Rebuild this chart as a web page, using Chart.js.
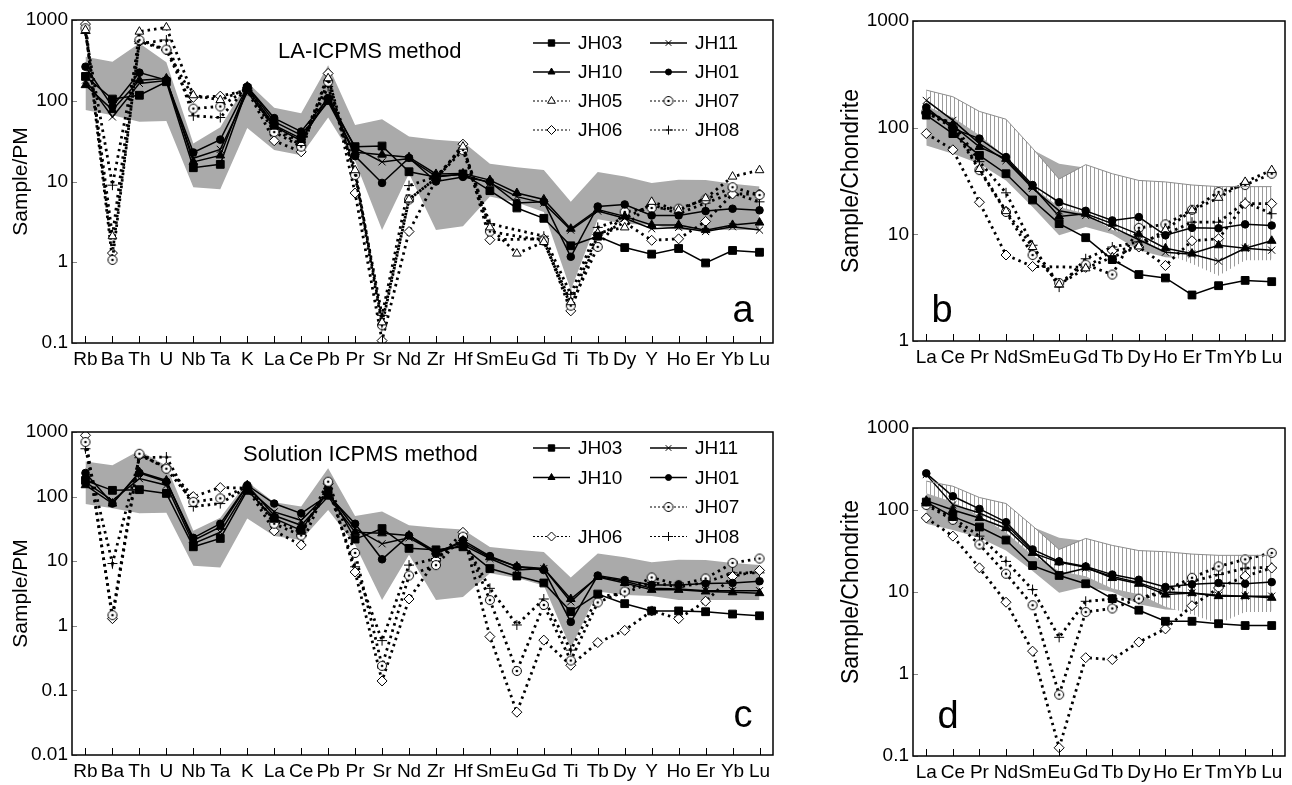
<!DOCTYPE html>
<html>
<head>
<meta charset="utf-8">
<script src="https://cdn.jsdelivr.net/npm/chart.js"></script>
<style>
	body { margin: 0; background: #fff; width: 1292px; height: 785px; overflow: hidden; position: relative; }
	.panel { position: absolute; }
</style>
</head>
<body>
<div class="panel" style="left:0;top:0"><canvas id="chart-a" width="800" height="385"></canvas></div>
<div class="panel" style="left:830px;top:0"><canvas id="chart-b" width="462" height="385"></canvas></div>
<div class="panel" style="left:0;top:400px"><canvas id="chart-c" width="800" height="385"></canvas></div>
<div class="panel" style="left:830px;top:400px"><canvas id="chart-d" width="462" height="385"></canvas></div>
<script>
// categories
const traceElements = ['Rb', 'Ba', 'Th', 'U', 'Nb', 'Ta', 'K', 'La', 'Ce', 'Pb', 'Pr', 'Sr', 'Nd', 'Zr', 'Hf', 'Sm', 'Eu', 'Gd', 'Ti', 'Tb', 'Dy', 'Y', 'Ho', 'Er', 'Yb', 'Lu']
const reeElements = ['La', 'Ce', 'Pr', 'Nd', 'Sm', 'Eu', 'Gd', 'Tb', 'Dy', 'Ho', 'Er', 'Tm', 'Yb', 'Lu']

// tick labels
const ticksA = [0.1, 1, 10, 100, 1000]
const ticksB = [1, 10, 100, 1000]
const ticksC = [0.01, 0.1, 1, 10, 100, 1000]
const ticksD = [0.1, 1, 10, 100, 1000]

// reference fields (shaded)
const pmBandUpper = [350, 305, 515, 300, 29.5, 47, 170, 82, 70, 275, 50, 59, 36, 33, 31, 16.6, 15, 13.9, 5.6, 13.1, 11.5, 9.6, 10.5, 10.4, 9.4, 8.7]
const pmBandLower = [77, 66, 55, 56, 8.5, 8.0, 46, 24.5, 21.2, 62, 18, 2.5, 12.6, 2.5, 2.8, 6.5, 5.5, 4.2, 0.45, 3.4, 3.0, 2.9, 2.5, 2.5, 2.5, 2.5]
const reeGrayUpper = [220, 190, 140, 118, 62, 46, 42, 35, 31, 30, 28, 27, 27, 27]
const reeGrayLower = [68, 57, 46, 32, 18, 9.8, 11.7, 10, 7.1, 6.1, 5.9, 6.0, 6.1, 5.9]
const reeHatchUpper = [225, 195, 142, 120, 64, 33, 45, 37, 32, 31, 29, 28, 28, 28]
const reeHatchLower = [160, 125, 85, 53, 28, 18, 15.6, 11, 9.4, 6.6, 5.3, 4.1, 5.7, 5.7]

// a: LA-ICPMS, primitive mantle normalised
const laPmJH03 = [200, 105, 117, 172, 14.8, 16.3, 142, 50, 34, 102, 27, 27.5, 13.2, 11.4, 12.4, 7.7, 4.7, 3.5, 1.6, 2.1, 1.52, 1.26, 1.48, 0.98, 1.4, 1.33]
const laPmJH11 = [180, 63, 164, 178, 19.4, 25, 128, 48, 32, 113, 26, 17.5, 19.2, 11.6, 12.2, 9.6, 6.5, 5.4, 2.5, 4.3, 3.5, 2.6, 2.7, 2.4, 2.75, 2.5]
const laPmJH10 = [156, 77, 180, 189, 17.5, 21, 150, 55, 37.6, 97, 23, 21.5, 20, 12.4, 12.6, 10.4, 7.2, 6.0, 2.6, 4.5, 3.7, 2.9, 2.9, 2.5, 2.9, 3.1]
const laPmJH01 = [264, 85, 223, 180, 22.9, 33, 150, 61, 41.5, 108, 20.6, 9.6, 19.6, 10, 11.4, 9.9, 5.4, 5.6, 1.17, 4.9, 5.2, 3.8, 3.8, 4.3, 4.6, 4.4]
const laPmJH05 = [750, 2.1, 717, 810, 117, 102, 140, 48, 30, 190, 13.8, 0.18, 6.0, 11, 27, 2.7, 1.28, 1.78, 0.32, 2.3, 2.7, 5.6, 4.4, 6.2, 11.5, 13.8]
const laPmJH07 = [790, 1.07, 565, 430, 80, 85, 140, 41, 27, 172, 12, 0.166, 6.0, 11, 24.5, 2.4, null, 1.85, 0.29, 1.55, 4.2, 4.7, 4.6, 6.0, 8.5, 6.8]
const laPmJH06 = [890, 1.3, 540, 425, 110, 114, 135, 32, 23.3, 218, 7.2, 0.107, 2.4, 10.5, 29, 1.9, null, 1.95, 0.25, 2.2, 3.1, 1.87, 1.95, 3.2, 7.0, 7.0]
const laPmJH08 = [680, 9, 510, 565, 65, 62, 145, 45, 28, 150, 12.5, 0.22, 8.9, 11.5, 26, 3.0, null, 2.1, 0.40, 2.7, 3.5, 5.2, 4.0, 5.4, 7.2, 5.6]

// b: LA-ICPMS, chondrite normalised
const laReeJH03 = [131, 88, 55, 37, 21, 12.6, 9.3, 5.8, 4.2, 3.9, 2.7, 3.3, 3.7, 3.6]
const laReeJH11 = [180, 117, 71, 49, 27, 16.6, 15, 11.7, 8.9, 6.8, 6.5, 5.6, 7.4, 7.1]
const laReeJH10 = [145, 105, 66, 51, 28, 14.7, 15.6, 12.6, 10, 7.4, 6.6, 7.9, 7.4, 8.7]
const laReeJH01 = [155, 98, 79, 53, 29, 20, 16.6, 13.5, 14.5, 9.8, 11.5, 11.4, 12.4, 12.1]
const laReeJH05 = [145, 105, 41, 16.5, 7.6, 3.4, 4.8, 6.1, 7.7, 11, 16.8, 22, 31, 40]
const laReeJH07 = [140, 100, 40, 16.2, 6.4, 3.5, 5.2, 4.2, 11.5, 12.4, 17, 25, 29, 37]
const laReeJH06 = [88, 62, 20, 6.4, 5.0, null, 4.9, 7.0, 7.6, 5.1, 8.7, 9.1, 19.4, 19.4]
const laReeJH08 = [135, 110, 48, 24.5, 7.9, 3.2, 5.9, 7.6, 8.5, 10, 13, 13, 20, 15.6]

// c: solution ICPMS, primitive mantle normalised
const solPmJH03 = [178, 125, 128, 112, 16.7, 22.5, 125, 46, 30, 123, 22, 32, 15.8, 15, 16.7, 7.7, 5.9, 4.6, 1.66, 3.1, 2.2, 1.7, 1.7, 1.65, 1.52, 1.43]
const solPmJH11 = [168, 87, 190, 150, 18.7, 28, 135, 58, 43, 112, 32, 18.6, 23, 13.5, 18, 11, 7.3, 7.7, 2.35, 5.8, 4.9, 3.8, 3.7, 3.5, 3.5, 3.5]
const solPmJH10 = [150, 78, 240, 178, 21, 34, 150, 51, 36, 100, 28, 27, 25, 14, 19.5, 11.5, 8.3, 7.7, 2.6, 5.7, 4.6, 3.6, 3.6, 3.4, 3.3, 3.2]
const solPmJH01 = [232, 78, 232, 170, 23, 38, 150, 78, 55, 105, 38, 10.7, 25, 13, 21, 12, 8.2, 7.3, 1.15, 6.0, 5.1, 4.3, 4.3, 4.5, 4.6, 4.9]
const solPmJH07 = [700, 1.46, 460, 270, 83, 94, 142, 38, 25, 170, 13.4, 0.24, 6.0, 8.7, 24, 2.5, 0.20, 2.1, 0.29, 2.3, 3.4, 5.6, 4.3, 5.4, 9.4, 11]
const solPmJH06 = [890, 1.29, 435, 285, 100, 138, 135, 29.5, 17.8, 158, 6.8, 0.14, 2.6, 10.4, 28, 0.68, 0.046, 0.60, 0.245, 0.55, 0.85, 1.7, 1.29, 2.4, 5.8, 7.2]
const solPmJH08 = [550, 9.2, 400, 410, 70, 78, 140, 43, 28, 133, 8.2, 0.59, 8.7, 11, 21, 3.8, 1.03, 2.6, 0.42, 2.8, 3.2, 4.7, 4.0, 4.7, 6.6, 6.6]

// d: solution ICPMS, chondrite normalised
const solReeJH03 = [125, 83, 62, 43, 21, 15.9, 12.6, 8.3, 6.0, 4.4, 4.4, 4.1, 3.9, 3.9]
const solReeJH11 = [270, 116, 92, 66, 31.7, 16.3, 19.5, 15.5, 13, 10, 9.7, 9.1, 8.9, 8.9]
const solReeJH10 = [130, 100, 80, 60, 30, 23, 20, 14.8, 12.6, 9.3, 9.7, 8.9, 8.9, 8.5]
const solReeJH01 = [280, 147, 103, 71, 33, 23.6, 20.5, 16.3, 14.1, 11.5, 12.4, 12.9, 12.6, 13.2]
const solReeJH07 = [115, 76, 38, 16.7, 6.9, 0.56, 5.7, 6.3, 8.3, 10.5, 14.9, 20.5, 25, 30]
const solReeJH06 = [80, 48, 19.7, 7.5, 1.9, 0.126, 1.58, 1.5, 2.45, 3.55, 6.8, 11.2, 15.6, 19.6]
const solReeJH08 = [120, 80, 48, 23.6, 10.7, 2.8, 7.7, 8.2, 8.1, 10, 13.5, 16.3, 19.5, 20]

Chart.defaults.font.family = '"Liberation Sans", Arial, sans-serif'
Chart.defaults.color = '#000'

// open circle with a dot (JH07)
const ringDot = document.createElement('canvas')
ringDot.width = 12
ringDot.height = 12
{
	const c = ringDot.getContext('2d')
	c.fillStyle = '#fff'
	c.strokeStyle = '#000'
	c.lineWidth = 1
	c.beginPath()
	c.arc(6, 6, 4.5, 0, Math.PI * 2)
	c.fill()
	c.stroke()
	c.fillStyle = '#000'
	c.beginPath()
	c.arc(6, 6, 1.3, 0, Math.PI * 2)
	c.fill()
}

// vertical hatching
const hatchCanvas = document.createElement('canvas')
hatchCanvas.width = 4
hatchCanvas.height = 4
const hctx = hatchCanvas.getContext('2d')
hctx.fillStyle = '#fff'
hctx.fillRect(0, 0, 4, 4)
hctx.fillStyle = '#9c9c9c'
hctx.fillRect(0, 0, 1, 4)
const hatch = hctx.createPattern(hatchCanvas, 'repeat')

const sampleStyle = {
	JH03: { dashed: false, pointStyle: 'rect', radius: 5.5, fill: '#000', legendRadius: 4.5 },
	JH11: { dashed: false, pointStyle: 'crossRot', radius: 5, fill: '#000', legendRadius: 4 },
	JH10: { dashed: false, pointStyle: 'triangle', radius: 5, fill: '#000', legendRadius: 4 },
	JH01: { dashed: false, pointStyle: 'circle', radius: 3.8, fill: '#000', legendRadius: 3 },
	JH05: { dashed: true, pointStyle: 'triangle', radius: 5, fill: '#fff', legendRadius: 4.5 },
	JH07: { dashed: true, pointStyle: ringDot, radius: 6, fill: '#fff', legendRadius: 6 },
	JH06: { dashed: true, pointStyle: 'rectRot', radius: 5, fill: '#fff', legendRadius: 4.5 },
	JH08: { dashed: true, pointStyle: 'cross', radius: 5, fill: '#000', legendRadius: 4.5 },
}

function sampleDataset(name, data) {
	const s = sampleStyle[name]
	return {
		label: name,
		data,
		borderColor: '#000',
		borderWidth: s.dashed ? 2.8 : 1.5,
		borderDash: s.dashed ? [2.5, 4] : [],
		pointStyle: s.pointStyle,
		pointRadius: s.radius,
		pointBackgroundColor: s.fill,
		pointBorderColor: '#000',
		pointBorderWidth: 1,
		spanGaps: true,
		tension: 0,
		fill: false,
	}
}

function bandDatasets(lower, upper, color, outline) {
	return [
		{ data: lower, borderWidth: 0, pointRadius: 0, fill: false, tension: 0 },
		{ data: upper, borderWidth: outline ? 1 : 0, borderColor: outline || 'transparent', pointRadius: 0, fill: '-1', backgroundColor: color, tension: 0 },
	]
}

// frame, inward ticks on both axes
const frame = {
	id: 'frame',
	afterDraw(chart) {
		const { ctx, chartArea: a, scales: { x, y } } = chart
		ctx.save()
		ctx.strokeStyle = '#000'
		ctx.lineWidth = 1
		x.ticks.forEach((t, i) => {
			const px = Math.round(x.getPixelForTick(i)) + 0.5
			ctx.beginPath()
			ctx.moveTo(px, a.bottom)
			ctx.lineTo(px, a.bottom - 7)
			ctx.stroke()
		})
		ctx.strokeStyle = '#888'
		y.ticks.forEach((t) => {
			const py = Math.round(y.getPixelForValue(t.value)) + 0.5
			ctx.beginPath()
			ctx.moveTo(a.left, py)
			ctx.lineTo(a.left + 5, py)
			ctx.stroke()
		})
		ctx.strokeStyle = '#000'
		ctx.lineWidth = 1.5
		ctx.strokeRect(a.left, a.top, a.right - a.left, a.bottom - a.top)
		ctx.restore()
	},
}

// two-column legend inside the plot
const sampleLegend = {
	id: 'sampleLegend',
	afterDraw(chart, args, opts) {
		if (!opts.slots) return
		const { ctx, chartArea: a } = chart
		ctx.save()
		opts.slots.forEach((name, i) => {
			if (!name) return
			const s = sampleStyle[name]
			const x0 = a.left + opts.left + (i % 2) * opts.colStep
			const y = a.top + opts.top + Math.floor(i / 2) * opts.rowStep
			ctx.strokeStyle = '#000'
			ctx.lineWidth = s.dashed ? 1 : 1.5
			ctx.setLineDash(s.dashed ? [2, 2] : [])
			ctx.beginPath()
			ctx.moveTo(x0, y)
			ctx.lineTo(x0 + 37, y)
			ctx.stroke()
			ctx.setLineDash([])
			ctx.fillStyle = s.fill
			ctx.lineWidth = 1
			Chart.helpers.drawPoint(ctx, { pointStyle: s.pointStyle, radius: s.legendRadius, rotation: 0, borderWidth: 1 }, x0 + 18.5, y)
			ctx.fillStyle = '#000'
			ctx.font = '19px "Liberation Sans", Arial, sans-serif'
			ctx.textAlign = 'left'
			ctx.textBaseline = 'middle'
			ctx.fillText(name, x0 + 45, y + 1)
		})
		ctx.restore()
	},
}

const notes = {
	id: 'notes',
	afterDraw(chart, args, opts) {
		const { ctx, chartArea: a } = chart
		ctx.save()
		ctx.fillStyle = '#000'
		;(opts.items || []).forEach((n) => {
			ctx.font = `${n.size}px "Liberation Sans", Arial, sans-serif`
			ctx.textAlign = n.align
			ctx.textBaseline = n.baseline
			ctx.fillText(n.text, a.left + n.dx, a.top + n.dy)
		})
		ctx.restore()
	},
}

function panelOptions(p) {
	return {
		responsive: false,
		animation: false,
		events: [],
		layout: { padding: { top: p.top, right: p.right, left: 0, bottom: 0 } },
		plugins: {
			legend: { display: false },
			tooltip: { enabled: false },
			filler: { drawTime: 'beforeDatasetsDraw' },
			sampleLegend: p.legend || {},
			notes: { items: p.notes },
		},
		scales: {
			x: {
				type: 'category',
				offset: true,
				grid: { display: false, drawTicks: false },
				border: { display: false },
				ticks: { autoSkip: false, maxRotation: 0, minRotation: 0, padding: 5, font: { size: 19 } },
				afterFit(s) { s.height = p.xHeight },
			},
			y: {
				type: 'logarithmic',
				min: p.ticks[0],
				max: p.ticks[p.ticks.length - 1],
				afterBuildTicks(s) { s.ticks = p.ticks.map((v) => ({ value: v })) },
				afterFit(s) { s.width = p.yWidth },
				grid: { display: false, drawTicks: false },
				border: { display: false },
				ticks: { callback: (v) => String(v), padding: 4, font: { size: 19 } },
				title: { display: true, text: p.yTitle, font: { size: p.titleSize }, padding: { top: p.titlePad, bottom: 0 } },
			},
		},
	}
}

const legendSlotsA = ['JH03', 'JH11', 'JH10', 'JH01', 'JH05', 'JH07', 'JH06', 'JH08']
const legendSlotsC = ['JH03', 'JH11', 'JH10', 'JH01', null, 'JH07', 'JH06', 'JH08']

new Chart(document.getElementById('chart-a'), {
	type: 'line',
	data: {
		labels: traceElements,
		datasets: [
			...bandDatasets(pmBandLower, pmBandUpper, '#aaaaaa'),
			sampleDataset('JH03', laPmJH03),
			sampleDataset('JH11', laPmJH11),
			sampleDataset('JH10', laPmJH10),
			sampleDataset('JH01', laPmJH01),
			sampleDataset('JH05', laPmJH05),
			sampleDataset('JH07', laPmJH07),
			sampleDataset('JH06', laPmJH06),
			sampleDataset('JH08', laPmJH08),
		],
	},
	options: panelOptions({
		top: 20, right: 27, xHeight: 42, yWidth: 72, ticks: ticksA,
		yTitle: 'Sample/PM', titleSize: 21, titlePad: 9,
		legend: { slots: legendSlotsA, left: 461, top: 23, rowStep: 29, colStep: 117 },
		notes: [
			{ text: 'LA-ICPMS method', dx: 206, dy: 32, size: 22, align: 'left', baseline: 'middle' },
			{ text: 'a', dx: 671, dy: 302, size: 38, align: 'center', baseline: 'alphabetic' },
		],
	}),
	plugins: [frame, sampleLegend, notes],
})

new Chart(document.getElementById('chart-b'), {
	type: 'line',
	data: {
		labels: reeElements,
		datasets: [
			...bandDatasets(reeHatchLower, reeHatchUpper, hatch, '#8c8c8c'),
			...bandDatasets(reeGrayLower, reeGrayUpper, '#aaaaaa'),
			sampleDataset('JH03', laReeJH03),
			sampleDataset('JH11', laReeJH11),
			sampleDataset('JH10', laReeJH10),
			sampleDataset('JH01', laReeJH01),
			sampleDataset('JH05', laReeJH05),
			sampleDataset('JH07', laReeJH07),
			sampleDataset('JH06', laReeJH06),
			sampleDataset('JH08', laReeJH08),
		],
	},
	options: panelOptions({
		top: 21, right: 2, xHeight: 44, yWidth: 83, ticks: ticksB,
		yTitle: 'Sample/Chondrite', titleSize: 23, titlePad: 8,
		notes: [{ text: 'b', dx: 29, dy: 301, size: 38, align: 'center', baseline: 'alphabetic' }],
	}),
	plugins: [frame, sampleLegend, notes],
})

new Chart(document.getElementById('chart-c'), {
	type: 'line',
	data: {
		labels: traceElements,
		datasets: [
			...bandDatasets(pmBandLower, pmBandUpper, '#aaaaaa'),
			sampleDataset('JH03', solPmJH03),
			sampleDataset('JH11', solPmJH11),
			sampleDataset('JH10', solPmJH10),
			sampleDataset('JH01', solPmJH01),
			sampleDataset('JH07', solPmJH07),
			sampleDataset('JH06', solPmJH06),
			sampleDataset('JH08', solPmJH08),
		],
	},
	options: panelOptions({
		top: 32, right: 27, xHeight: 30, yWidth: 72, ticks: ticksC,
		yTitle: 'Sample/PM', titleSize: 21, titlePad: 9,
		legend: { slots: legendSlotsC, left: 461, top: 16, rowStep: 29.5, colStep: 117 },
		notes: [
			{ text: 'Solution ICPMS method', dx: 171, dy: 23, size: 22, align: 'left', baseline: 'middle' },
			{ text: 'c', dx: 671, dy: 295, size: 38, align: 'center', baseline: 'alphabetic' },
		],
	}),
	plugins: [frame, sampleLegend, notes],
})

new Chart(document.getElementById('chart-d'), {
	type: 'line',
	data: {
		labels: reeElements,
		datasets: [
			...bandDatasets(reeHatchLower, reeHatchUpper, hatch, '#8c8c8c'),
			...bandDatasets(reeGrayLower, reeGrayUpper, '#aaaaaa'),
			sampleDataset('JH03', solReeJH03),
			sampleDataset('JH11', solReeJH11),
			sampleDataset('JH10', solReeJH10),
			sampleDataset('JH01', solReeJH01),
			sampleDataset('JH07', solReeJH07),
			sampleDataset('JH06', solReeJH06),
			sampleDataset('JH08', solReeJH08),
		],
	},
	options: panelOptions({
		top: 28, right: 2, xHeight: 29, yWidth: 83, ticks: ticksD,
		yTitle: 'Sample/Chondrite', titleSize: 23, titlePad: 8,
		notes: [{ text: 'd', dx: 35, dy: 300, size: 38, align: 'center', baseline: 'alphabetic' }],
	}),
	plugins: [frame, sampleLegend, notes],
})
</script>
</body>
</html>
